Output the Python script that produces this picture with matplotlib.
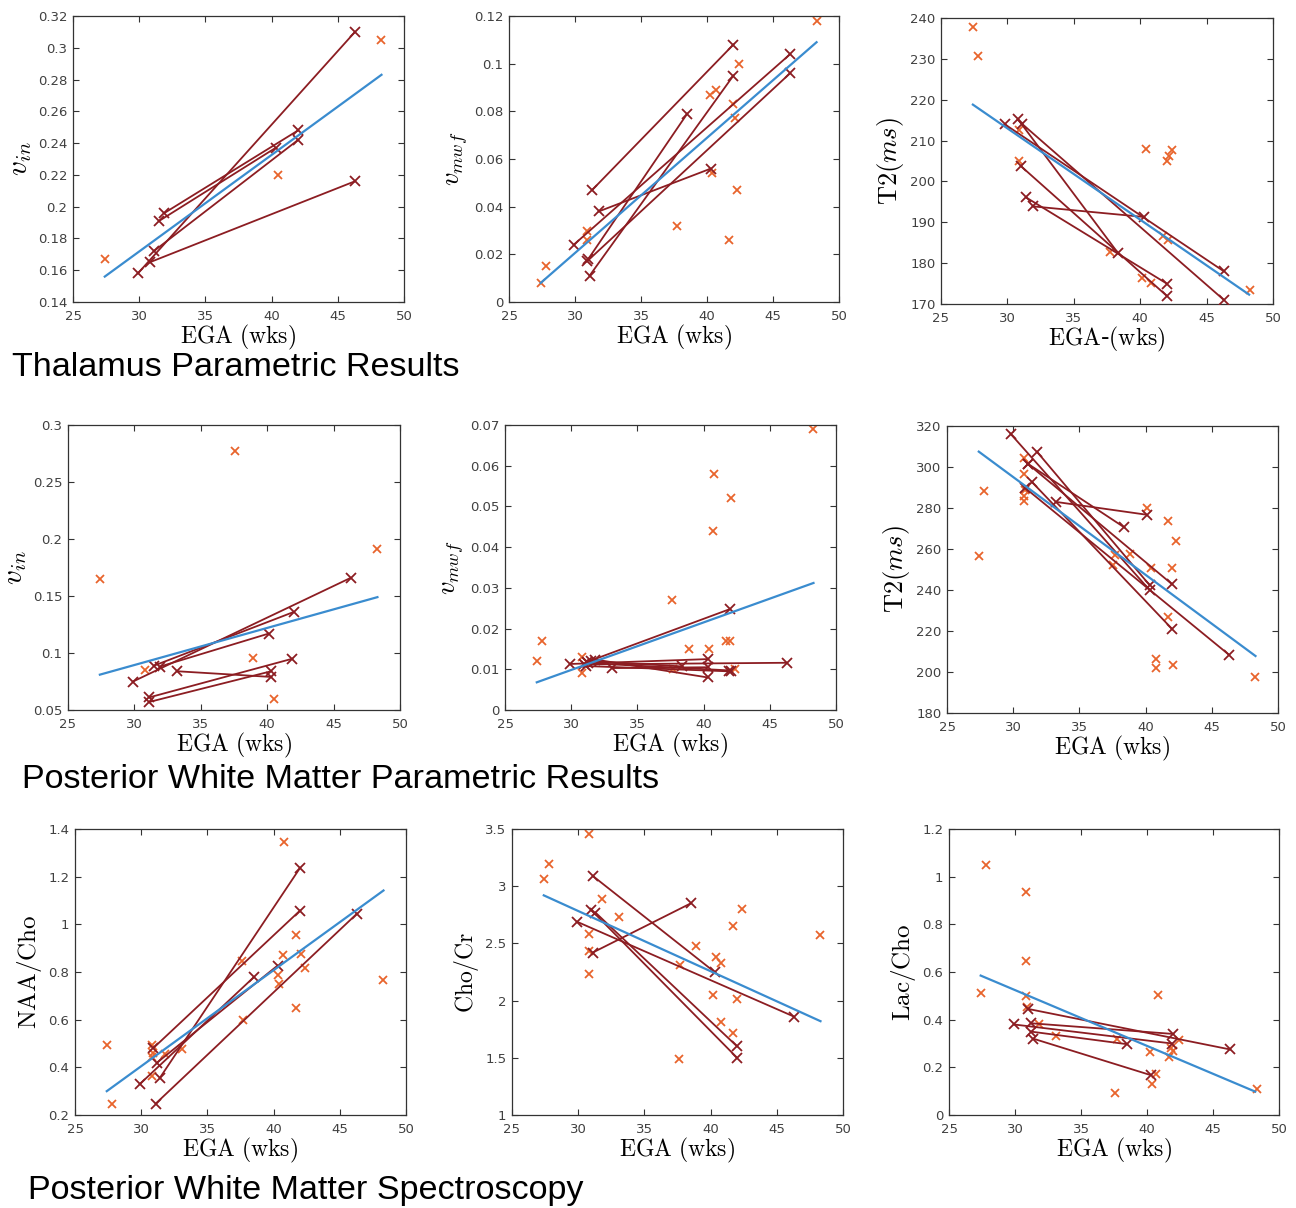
import numpy as np
import matplotlib
matplotlib.use('Agg')
import matplotlib.pyplot as plt
from matplotlib.ticker import FuncFormatter

plt.rcParams['mathtext.fontset'] = 'cm'
plt.rcParams['font.family'] = ['DejaVu Sans']

# ---------------- data ----------------
# fit lines are given by their two end points
# segments: start x, start y, end x, end y (one subject scanned twice)

# Thalamus v_in
thal_vin_x = [27.4, 40.5, 48.3]
thal_vin_y = [0.167, 0.220, 0.305]
thal_vin_x0 = [29.9, 31.1, 30.8, 31.9, 31.5]
thal_vin_y0 = [0.158, 0.172, 0.165, 0.196, 0.191]
thal_vin_x1 = [46.3, 42.0, 46.3, 42.0, 40.3]
thal_vin_y1 = [0.310, 0.242, 0.216, 0.248, 0.237]
thal_vin_fit_x = [27.4, 48.3]
thal_vin_fit_y = [0.156, 0.283]

# Thalamus v_mwf
thal_mwf_x = [27.4, 27.8, 30.9, 30.9, 37.7, 40.2, 40.7, 40.4, 41.7, 42.0, 42.1, 42.3, 42.4, 48.3]
thal_mwf_y = [0.008, 0.015, 0.030, 0.026, 0.032, 0.087, 0.089, 0.054, 0.026, 0.083, 0.077, 0.047, 0.100, 0.118]
thal_mwf_x0 = [31.3, 31.8, 29.9, 30.9, 31.1, 31.0]
thal_mwf_y0 = [0.047, 0.038, 0.024, 0.017, 0.011, 0.018]
thal_mwf_x1 = [42.0, 40.3, 46.3, 46.3, 42.0, 38.5]
thal_mwf_y1 = [0.108, 0.056, 0.104, 0.096, 0.095, 0.079]
thal_mwf_fit_x = [27.4, 48.3]
thal_mwf_fit_y = [0.008, 0.109]

# Thalamus T2
thal_t2_x = [27.4, 27.8, 30.9, 30.9, 37.7, 40.1, 40.4, 40.8, 41.7, 42.1, 42.0, 42.2, 42.4, 48.3]
thal_t2_y = [237.8, 230.8, 212.5, 205.0, 182.7, 176.3, 208.0, 175.2, 186.6, 185.6, 205.0, 206.3, 207.8, 173.5]
thal_t2_x0 = [29.8, 30.8, 31.1, 31.0, 31.4, 31.9]
thal_t2_y0 = [214.0, 215.2, 214.1, 203.8, 196.1, 193.9]
thal_t2_x1 = [46.3, 38.3, 46.3, 42.0, 42.0, 40.3]
thal_t2_y1 = [178.0, 182.6, 171.0, 172.0, 175.0, 191.3]
thal_t2_fit_x = [27.4, 48.2]
thal_t2_fit_y = [218.8, 172.3]

# Posterior WM v_in
pwm_vin_x = [27.4, 30.8, 37.6, 38.9, 40.5, 48.3]
pwm_vin_y = [0.165, 0.085, 0.277, 0.096, 0.060, 0.191]
pwm_vin_x0 = [29.9, 31.5, 31.9, 33.2, 31.1, 31.1]
pwm_vin_y0 = [0.075, 0.089, 0.088, 0.084, 0.061, 0.057]
pwm_vin_x1 = [46.3, 42.0, 40.1, 40.3, 41.9, 40.3]
pwm_vin_y1 = [0.166, 0.136, 0.117, 0.079, 0.095, 0.084]
pwm_vin_fit_x = [27.4, 48.3]
pwm_vin_fit_y = [0.081, 0.149]

# Posterior WM v_mwf
pwm_mwf_x = [27.4, 27.8, 30.8, 30.8, 37.6, 37.7, 38.9, 40.4, 40.7, 40.8, 41.7, 42.0, 42.1, 42.4, 48.3]
pwm_mwf_y = [0.012, 0.017, 0.013, 0.009, 0.027, 0.010, 0.015, 0.015, 0.044, 0.058, 0.017, 0.017, 0.052, 0.010, 0.069]
pwm_mwf_x0 = [29.9, 31.0, 31.2, 31.8, 31.1, 33.1, 31.5, 31.3]
pwm_mwf_y0 = [0.0113, 0.0112, 0.0118, 0.0124, 0.0108, 0.0103, 0.0120, 0.0115]
pwm_mwf_x1 = [40.3, 46.3, 42.0, 40.3, 41.9, 40.3, 38.4, 42.1]
pwm_mwf_y1 = [0.0125, 0.0116, 0.0248, 0.0080, 0.0095, 0.0105, 0.0107, 0.0097]
pwm_mwf_fit_x = [27.4, 48.3]
pwm_mwf_fit_y = [0.0068, 0.0312]

# Posterior WM T2
pwm_t2_x = [27.4, 27.8, 30.8, 30.8, 30.9, 30.8, 30.8, 37.5, 37.7, 38.8,
            40.1, 40.4, 40.8, 40.8, 41.7, 41.7, 42.0, 42.1, 42.3, 48.3]
pwm_t2_y = [256.4, 288.3, 304.2, 296.6, 288.8, 285.9, 283.6, 252.3, 257.0, 257.6,
            279.9, 250.8, 206.3, 202.0, 273.7, 226.8, 250.8, 203.6, 264.1, 197.4]
pwm_t2_x0 = [29.8, 31.8, 31.1, 31.1, 31.4, 30.9, 33.2]
pwm_t2_y0 = [316.2, 307.4, 301.6, 301.6, 292.8, 289.8, 283.0]
pwm_t2_x1 = [40.3, 40.3, 38.4, 42.0, 42.0, 46.3, 40.1]
pwm_t2_y1 = [240.0, 242.4, 270.5, 242.8, 221.0, 208.4, 276.7]
pwm_t2_fit_x = [27.4, 48.3]
pwm_t2_fit_y = [307.5, 207.8]

# Spectroscopy NAA/Cho
naa_x = [27.4, 27.8, 30.8, 30.8, 30.9, 30.8, 31.8, 33.1, 37.6, 37.7,
         40.3, 40.4, 40.7, 40.8, 41.7, 41.7, 42.1, 42.4, 48.3]
naa_y = [0.495, 0.245, 0.495, 0.445, 0.46, 0.365, 0.455, 0.475, 0.848, 0.598,
         0.787, 0.748, 0.872, 1.344, 0.957, 0.647, 0.877, 0.817, 0.765]
naa_x0 = [29.9, 30.9, 31.2, 31.4, 31.1]
naa_y0 = [0.330, 0.480, 0.420, 0.355, 0.248]
naa_x1 = [38.5, 42.0, 40.3, 42.0, 46.3]
naa_y1 = [0.778, 1.058, 0.827, 1.237, 1.045]
naa_fit_x = [27.4, 48.3]
naa_fit_y = [0.300, 1.142]

# Spectroscopy Cho/Cr
cho_x = [27.4, 27.8, 30.8, 30.8, 30.8, 30.8, 31.8, 33.1, 37.6, 37.7,
         38.9, 40.2, 40.4, 40.8, 40.8, 41.7, 41.7, 42.0, 42.4, 48.3]
cho_y = [3.06, 3.19, 3.46, 2.58, 2.43, 2.23, 2.89, 2.73, 1.49, 2.31,
         2.48, 2.05, 2.38, 2.33, 1.81, 2.65, 1.72, 2.01, 2.80, 2.57]
cho_x0 = [29.9, 31.1, 31.0, 31.3, 31.1]
cho_y0 = [2.69, 3.09, 2.79, 2.77, 2.42]
cho_x1 = [46.3, 40.3, 42.0, 42.0, 38.5]
cho_y1 = [1.86, 2.25, 1.50, 1.60, 2.85]
cho_fit_x = [27.4, 48.3]
cho_fit_y = [2.92, 1.82]

# Spectroscopy Lac/Cho
lac_x = [27.4, 27.8, 30.8, 30.8, 30.8, 30.9, 31.8, 33.1, 37.6, 37.7,
         40.2, 40.4, 40.7, 40.8, 41.7, 41.8, 42.0, 42.4, 48.3]
lac_y = [0.51, 1.05, 0.935, 0.648, 0.50, 0.455, 0.38, 0.33, 0.092, 0.32,
         0.266, 0.128, 0.17, 0.505, 0.243, 0.28, 0.27, 0.315, 0.11]
lac_x0 = [29.9, 31.0, 31.2, 31.2, 31.4]
lac_y0 = [0.380, 0.445, 0.385, 0.350, 0.320]
lac_x1 = [41.9, 46.3, 42.0, 38.5, 40.3]
lac_y1 = [0.300, 0.275, 0.340, 0.297, 0.167]
lac_fit_x = [27.4, 48.2]
lac_fit_y = [0.585, 0.098]

# ---------------- styling ----------------
ORANGE = '#E8642C'
DARKRED = '#8C1D22'
BLUE = '#3A8CCF'
TICKGRAY = '#404040'

W, H = 1296, 1208
fig = plt.figure(figsize=(W / 100, H / 100), dpi=100)


def add_axes_px(x0, y0, x1, y1):
    # pixel box (from top-left) -> figure fraction
    return fig.add_axes([x0 / W, 1 - y1 / H, (x1 - x0) / W, (y1 - y0) / H])


panels = [
    # box, pts x, pts y, seg, fit, ylim, ystep, ylabel, ysize, xlabel
    ((73, 16, 404, 302), thal_vin_x, thal_vin_y,
     (thal_vin_x0, thal_vin_y0, thal_vin_x1, thal_vin_y1), (thal_vin_fit_x, thal_vin_fit_y),
     (0.14, 0.32), 0.02, r'$v_{in}$', 21, r'$\mathrm{EGA\ (wks)}$'),
    ((509, 16, 839, 302), thal_mwf_x, thal_mwf_y,
     (thal_mwf_x0, thal_mwf_y0, thal_mwf_x1, thal_mwf_y1), (thal_mwf_fit_x, thal_mwf_fit_y),
     (0, 0.12), 0.02, r'$v_{mwf}$', 19, r'$\mathrm{EGA\ (wks)}$'),
    ((941, 18, 1273, 304), thal_t2_x, thal_t2_y,
     (thal_t2_x0, thal_t2_y0, thal_t2_x1, thal_t2_y1), (thal_t2_fit_x, thal_t2_fit_y),
     (170, 240), 10, r'$\mathrm{T2}(ms)$', 19, r'$\mathrm{EGA}$-$\mathrm{(wks)}$'),
    ((68, 425, 400, 710), pwm_vin_x, pwm_vin_y,
     (pwm_vin_x0, pwm_vin_y0, pwm_vin_x1, pwm_vin_y1), (pwm_vin_fit_x, pwm_vin_fit_y),
     (0.05, 0.3), 0.05, r'$v_{in}$', 21, r'$\mathrm{EGA\ (wks)}$'),
    ((505, 425, 836, 710), pwm_mwf_x, pwm_mwf_y,
     (pwm_mwf_x0, pwm_mwf_y0, pwm_mwf_x1, pwm_mwf_y1), (pwm_mwf_fit_x, pwm_mwf_fit_y),
     (0, 0.07), 0.01, r'$v_{mwf}$', 19, r'$\mathrm{EGA\ (wks)}$'),
    ((947, 426, 1278, 713), pwm_t2_x, pwm_t2_y,
     (pwm_t2_x0, pwm_t2_y0, pwm_t2_x1, pwm_t2_y1), (pwm_t2_fit_x, pwm_t2_fit_y),
     (180, 320), 20, r'$\mathrm{T2}(ms)$', 19, r'$\mathrm{EGA\ (wks)}$'),
    ((75, 829, 406, 1115), naa_x, naa_y,
     (naa_x0, naa_y0, naa_x1, naa_y1), (naa_fit_x, naa_fit_y),
     (0.2, 1.4), 0.2, r'$\mathrm{NAA/Cho}$', 18, r'$\mathrm{EGA\ (wks)}$'),
    ((512, 829, 843, 1115), cho_x, cho_y,
     (cho_x0, cho_y0, cho_x1, cho_y1), (cho_fit_x, cho_fit_y),
     (1, 3.5), 0.5, r'$\mathrm{Cho/Cr}$', 17, r'$\mathrm{EGA\ (wks)}$'),
    ((949, 829, 1279, 1115), lac_x, lac_y,
     (lac_x0, lac_y0, lac_x1, lac_y1), (lac_fit_x, lac_fit_y),
     (0, 1.2), 0.2, r'$\mathrm{Lac/Cho}$', 18, r'$\mathrm{EGA\ (wks)}$'),
]

fmt = FuncFormatter(lambda v, p: f'{round(v, 6):g}')

for box, px, py, seg, fit, ylim, ystep, ylab, ysize, xlab in panels:
    ax = add_axes_px(*box)
    ax.plot(px, py, 'x', color=ORANGE, ms=6, mew=1.3, zorder=2)
    x0, y0, x1, y1 = seg
    for a, b, c, d in zip(x0, y0, x1, y1):
        ax.plot([a, c], [b, d], '-x', color=DARKRED, lw=1.3, ms=6.5, mew=1.3, zorder=3)
    ax.plot(fit[0], fit[1], '-', color=BLUE, lw=1.6, zorder=4)

    ax.set_xlim(25, 50)
    ax.set_ylim(*ylim)
    ax.set_xticks(np.arange(25, 51, 5))
    ax.set_yticks(np.arange(ylim[0], ylim[1] + ystep / 2, ystep))
    ax.yaxis.set_major_formatter(fmt)
    ax.tick_params(direction='in', length=4, width=0.8, top=True, right=True,
                   labelsize=9.5, labelcolor=TICKGRAY, color='#333333')
    ax.tick_params(axis='x', pad=6)
    ax.tick_params(axis='y', pad=4)
    for s in ax.spines.values():
        s.set_color('#333333')
        s.set_linewidth(0.9)
    ax.set_xlabel(xlab, fontsize=17, labelpad=0)
    ax.set_ylabel(ylab, fontsize=ysize, labelpad=3)

title_kw = dict(fontsize=24.6, family=['Liberation Sans', 'DejaVu Sans'], va='center', ha='left')
fig.text(12 / W, 1 - 368 / H, 'Thalamus Parametric Results', **title_kw)
fig.text(22 / W, 1 - 780 / H, 'Posterior White Matter Parametric Results', **title_kw)
fig.text(28 / W, 1 - 1190 / H, 'Posterior White Matter Spectroscopy', **title_kw)

fig.savefig('out.png', dpi=100, facecolor='white')
